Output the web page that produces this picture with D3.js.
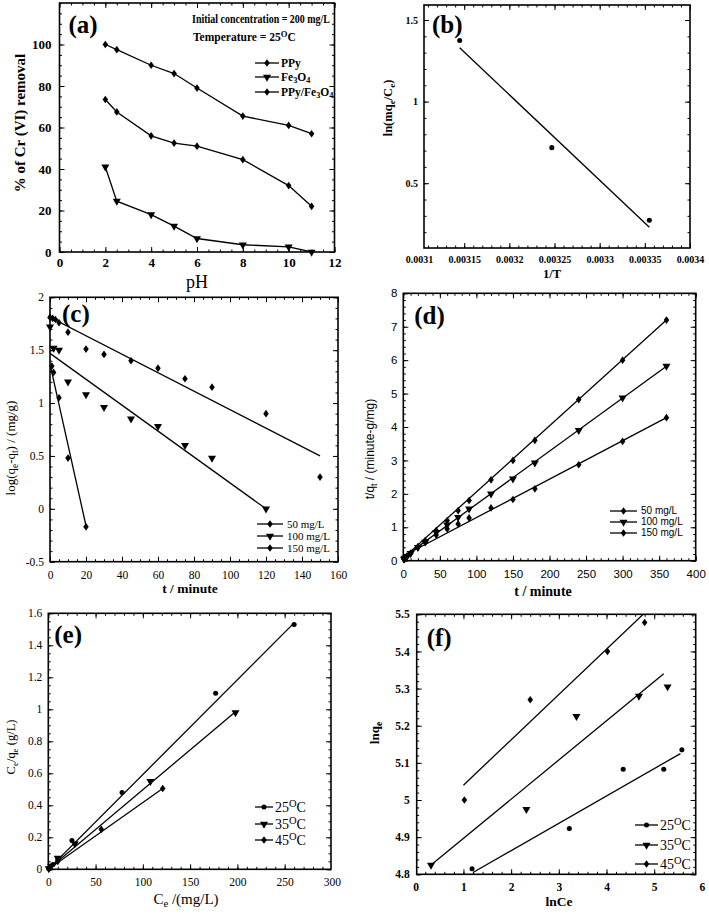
<!DOCTYPE html>
<html><head><meta charset="utf-8">
<script src="https://cdn.jsdelivr.net/npm/d3@7/dist/d3.min.js"></script>
<style>body{margin:0;background:#fff}svg{display:block}</style>
</head><body><svg id="fig" width="709" height="917"></svg>
<script>
// ---------------- DATA ----------------
// (a) effect of pH
const phValues = [2, 2.5, 4, 5, 6, 8, 10, 11];
const removalPPy = [100, 97.5, 90, 86, 79, 65.5, 61, 57];
const removalFe3O4 = [41, 24.5, 18, 12.5, 6.5, 3.5, 2.5, 0];
const removalComposite = [73.5, 67.5, 56, 52.5, 51, 44.5, 32, 22];
const aXTicks = [0, 2, 4, 6, 8, 10, 12];
const aYTicks = [0, 20, 40, 60, 80, 100];

// (b) van't Hoff
const invT = [0.003145, 0.003247, 0.003355];
const lnKd = [1.375, 0.718, 0.273];
const lnKdFitX = [0.003145, 0.003355];
const lnKdFitY = [1.33, 0.23];
const bXTicks = [0.0031, 0.00315, 0.0032, 0.00325, 0.0033, 0.00335, 0.0034];
const bYTicks = [0.5, 1, 1.5];

// (c) pseudo-first-order
const cT50 = [0, 1.5, 3, 5, 10, 20, 30, 45, 60, 75, 90, 120, 150];
const cLog50 = [1.81, 1.80, 1.79, 1.76, 1.67, 1.51, 1.46, 1.40, 1.33, 1.23, 1.15, 0.90, 0.30];
const cT100 = [0, 2, 5, 10, 20, 30, 45, 60, 75, 90, 120];
const cLog100 = [1.72, 1.52, 1.50, 1.20, 1.08, 0.96, 0.85, 0.78, 0.60, 0.48, 0.0];
const cT150 = [1, 2, 5, 10, 20];
const cLog150 = [1.35, 1.29, 1.05, 0.48, -0.17];
const cFit50 = [[0, 1.81], [150, 0.50]];
const cFit100 = [[0, 1.47], [120, 0.0]];
const cFit150 = [[0.5, 1.33], [20, -0.16]];
const cXTicks = [0, 20, 40, 60, 80, 100, 120, 140, 160];
const cYTicks = [-0.5, 0, 0.5, 1, 1.5, 2];

// (d) pseudo-second-order
const dT = [1, 2, 5, 10, 20, 30, 45, 60, 75, 90, 120, 150, 180, 240, 300, 360];
const dY50 = [0.04, 0.06, 0.12, 0.22, 0.42, 0.6, 0.9, 1.2, 1.5, 1.8, 2.42, 3.0, 3.6, 4.82, 6.0, 7.2];
const dY100 = [0.05, 0.08, 0.13, 0.22, 0.4, 0.56, 0.85, 1.07, 1.3, 1.55, 2.0, 2.45, 2.93, 3.9, 4.87, 5.82];
const dY150 = [0.06, 0.09, 0.14, 0.22, 0.4, 0.55, 0.77, 0.95, 1.1, 1.28, 1.58, 1.83, 2.15, 2.87, 3.57, 4.28];
const dFit50 = [[0, 0.08], [360, 7.2]];
const dFit100 = [[0, 0.1], [360, 5.82]];
const dFit150 = [[0, 0.14], [360, 4.28]];
const dXTicks = [0, 50, 100, 150, 200, 250, 300, 350, 400];
const dYTicks = [0, 1, 2, 3, 4, 5, 6, 7, 8];

// (e) Langmuir
const eCe25 = [0.5, 2, 5, 10, 25, 78, 177, 260];
const eRatio25 = [0.005, 0.015, 0.03, 0.06, 0.18, 0.48, 1.10, 1.53];
const eCe35 = [0.5, 3, 10, 28, 108, 198];
const eRatio35 = [0.005, 0.02, 0.07, 0.16, 0.55, 0.98];
const eCe45 = [0.5, 2, 10, 56, 121];
const eRatio45 = [0.005, 0.012, 0.05, 0.25, 0.505];
const eFit25 = [[0, 0.0], [260, 1.54]];
const eFit35 = [[0, 0.0], [198, 0.985]];
const eFit45 = [[0, 0.0], [121, 0.505]];
const eXTicks = [0, 50, 100, 150, 200, 250, 300];
const eYTicks = [0, 0.2, 0.4, 0.6, 0.8, 1, 1.2, 1.4, 1.6];

// (f) Freundlich
const fLnCe25 = [1.18, 3.22, 4.35, 5.2, 5.58];
const fLnQ25 = [4.815, 4.923, 5.083, 5.083, 5.135];
const fLnCe35 = [0.32, 2.32, 3.37, 4.68, 5.28];
const fLnQ35 = [4.825, 4.975, 5.225, 5.28, 5.305];
const fLnCe45 = [1.02, 2.4, 4.02, 4.8];
const fLnQ45 = [5.0, 5.27, 5.40, 5.478];
const fFit25 = [[1.2, 4.805], [5.55, 5.125]];
const fFit35 = [[0.32, 4.825], [5.2, 5.34]];
const fFit45 = [[1.0, 5.04], [4.85, 5.51]];
const fXTicks = [0, 1, 2, 3, 4, 5, 6];
const fYTicks = [4.8, 4.9, 5, 5.1, 5.2, 5.3, 5.4, 5.5];

// ---------------- DRAWING ----------------
const svg = d3.select("#fig");
const SERIF = "'Liberation Serif','Times New Roman',serif";
const SANS = "'Liberation Sans',Arial,sans-serif";

function richText(g, x, y, parts, o) {
  const t = g.append("text").attr("x", x).attr("y", y)
    .attr("font-family", o.font || SERIF).attr("font-size", o.size)
    .attr("font-weight", o.weight || "normal")
    .attr("text-anchor", o.anchor || "start").attr("fill", "#000");
  if (o.rotate) t.attr("transform", `rotate(-90,${x},${y})`);
  if (o.len) t.attr("textLength", o.len).attr("lengthAdjust", "spacingAndGlyphs");
  parts.forEach(p => {
    if (typeof p === "string") t.append("tspan").text(p);
    else if (p.sub !== undefined) t.append("tspan").attr("baseline-shift", "-30%").attr("font-size", o.size * 0.72).text(p.sub);
    else t.append("tspan").attr("baseline-shift", "45%").attr("font-size", o.size * 0.75).text(p.sup);
  });
  return t;
}

const symDiamond = d3.symbol().type(d3.symbolDiamond).size(17)();
const symCircle = d3.symbol().type(d3.symbolCircle).size(20)();
const symTri = d3.symbol().type(d3.symbolTriangle).size(28)();
function marker(g, type, x, y) {
  const p = g.append("path").attr("fill", "#000");
  if (type === "tri") p.attr("d", symTri).attr("transform", `translate(${x},${y}) rotate(180)`);
  else if (type === "diamond") p.attr("d", symDiamond).attr("transform", `translate(${x},${y}) scale(1.25,1)`);
  else p.attr("d", symCircle).attr("transform", `translate(${x},${y})`);
}

function panel(cfg) {
  const g = svg.append("g");
  const x = d3.scaleLinear().domain(cfg.xDomain).range([cfg.l, cfg.r]);
  const y = d3.scaleLinear().domain(cfg.yDomain).range([cfg.b, cfg.t]);
  const inX = v => v >= cfg.xDomain[0] - 1e-12 && v <= cfg.xDomain[1] + 1e-12;
  const inY = v => v >= cfg.yDomain[0] - 1e-9 && v <= cfg.yDomain[1] + 1e-9;
  const xMinor = d3.range(cfg.xMinor[0], cfg.xMinor[1] + cfg.xMinor[2] / 2, cfg.xMinor[2]).filter(inX);
  const yMinor = d3.range(cfg.yMinor[0], cfg.yMinor[1] + cfg.yMinor[2] / 2, cfg.yMinor[2]).filter(inY);
  const xMajor = cfg.xTicks.filter(inX), yMajor = cfg.yTicks.filter(inY);
  const fmt = d => String(d);
  const tickFont = cfg.tickFont || SERIF;

  function style(sel) {
    sel.select(".domain").remove();
    sel.selectAll("line").attr("stroke", "#000").attr("stroke-width", 1);
    sel.selectAll("text").attr("font-family", tickFont).attr("font-size", cfg.tickSize)
      .attr("font-weight", cfg.tickWeight || "normal").attr("fill", "#000");
  }
  // labels
  g.append("g").attr("transform", `translate(0,${cfg.b})`)
    .call(d3.axisBottom(x).tickValues(cfg.xTicks).tickFormat(fmt).tickSize(0).tickPadding(cfg.xPad)).call(style);
  g.append("g").attr("transform", `translate(${cfg.l},0)`)
    .call(d3.axisLeft(y).tickValues(cfg.yTicks).tickFormat(fmt).tickSize(0).tickPadding(cfg.yPad)).call(style);
  // tick marks (inward) on all four sides
  const mk = (axisFn, scale, vals, size, tr) => g.append("g").attr("transform", tr)
    .call(axisFn(scale).tickValues(vals).tickFormat("").tickSizeInner(-size).tickSizeOuter(0)).call(style);
  mk(d3.axisBottom, x, xMajor, 5, `translate(0,${cfg.b})`);
  mk(d3.axisBottom, x, xMinor, 2.5, `translate(0,${cfg.b})`);
  mk(d3.axisTop, x, xMajor, 5, `translate(0,${cfg.t})`);
  mk(d3.axisTop, x, xMinor, 2.5, `translate(0,${cfg.t})`);
  mk(d3.axisLeft, y, yMajor, 5, `translate(${cfg.l},0)`);
  mk(d3.axisLeft, y, yMinor, 2.5, `translate(${cfg.l},0)`);
  mk(d3.axisRight, y, yMajor, 5, `translate(${cfg.r},0)`);
  mk(d3.axisRight, y, yMinor, 2.5, `translate(${cfg.r},0)`);
  // frame
  g.append("rect").attr("x", cfg.l).attr("y", cfg.t).attr("width", cfg.r - cfg.l).attr("height", cfg.b - cfg.t)
    .attr("fill", "none").attr("stroke", "#000").attr("stroke-width", 1.6);
  // clip
  const cid = "clip-" + cfg.id;
  svg.append("clipPath").attr("id", cid).append("rect")
    .attr("x", cfg.l).attr("y", cfg.t).attr("width", cfg.r - cfg.l).attr("height", cfg.b - cfg.t);
  const plot = g.append("g").attr("clip-path", `url(#${cid})`);
  const line = d3.line().x(d => x(d[0])).y(d => y(d[1]));
  (cfg.lines || []).forEach(L => plot.append("path").attr("d", line(L)).attr("fill", "none")
    .attr("stroke", "#000").attr("stroke-width", 1.3));
  const mg = g.append("g");
  (cfg.series || []).forEach(s => s.xs.forEach((xv, i) => marker(mg, s.type, x(xv), y(s.ys[i]))));
  // panel letter
  g.append("text").attr("x", cfg.l + cfg.letterDx).attr("y", cfg.t + cfg.letterDy)
    .attr("font-family", SERIF).attr("font-weight", "bold").attr("font-size", 25).text(cfg.letter);
  // titles
  richText(g, cfg.xTitle.x, cfg.xTitle.y, cfg.xTitle.parts, Object.assign({anchor: "middle"}, cfg.xTitle));
  richText(g, cfg.yTitle.x, cfg.yTitle.y, cfg.yTitle.parts, Object.assign({anchor: "middle", rotate: true}, cfg.yTitle));
  // legend
  if (cfg.legend) {
    const L = cfg.legend;
    L.items.forEach((it, i) => {
      const yy = L.ys[i];
      g.append("line").attr("x1", L.x0).attr("x2", L.x1).attr("y1", yy).attr("y2", yy)
        .attr("stroke", "#000").attr("stroke-width", 1.3);
      marker(g, it.type, (L.x0 + L.x1) / 2, yy);
      richText(g, L.tx, yy + L.size * 0.33, it.parts, {size: L.size, font: L.font || SERIF, weight: L.weight});
    });
  }
  return {g, x, y};
}

const zip = (a, b) => a.map((v, i) => [v, b[i]]);
const degC = t => [t, {sup: "O"}, "C"];

// (a)
const pa = panel({
  id: "a", letter: "(a)", letterDx: 9, letterDy: 30,
  l: 59.5, r: 334.5, t: 3, b: 252, xDomain: [0, 12], yDomain: [0, 120],
  xTicks: aXTicks, yTicks: aYTicks, xMinor: [0, 12, 0.5], yMinor: [0, 120, 5],
  tickSize: 13, tickWeight: "bold", xPad: 6, yPad: 8,
  lines: [zip(phValues, removalPPy), zip(phValues, removalFe3O4), zip(phValues, removalComposite)],
  series: [{type: "diamond", xs: phValues, ys: removalPPy}, {type: "tri", xs: phValues, ys: removalFe3O4},
    {type: "diamond", xs: phValues, ys: removalComposite}],
  xTitle: {x: 197, y: 288, parts: ["pH"], size: 18},
  yTitle: {x: 25, y: 123, parts: ["% of Cr (VI) removal"], size: 15, weight: "bold"},
  legend: {x0: 255, x1: 279, tx: 281, ys: [63, 77, 92], size: 11.5, weight: "bold",
    items: [{type: "diamond", parts: ["PPy"]}, {type: "tri", parts: ["Fe", {sub: "3"}, "O", {sub: "4"}]},
      {type: "diamond", parts: ["PPy/Fe", {sub: "3"}, "O", {sub: "4"}]}]}
});
richText(pa.g, 192, 23, ["Initial concentration = 200 mg/L"], {size: 11.5, weight: "bold", len: 138});
richText(pa.g, 193, 41, ["Temperature = 25", {sup: "O"}, "C"], {size: 11.5, weight: "bold"});

// (b)
panel({
  id: "b", letter: "(b)", letterDx: 8, letterDy: 28,
  l: 424, r: 690, t: 5, b: 248, xDomain: [0.0031055, 0.0034], yDomain: [0.103, 1.592],
  xTicks: bXTicks, yTicks: bYTicks, xMinor: [0.0031, 0.0034, 0.00001], yMinor: [0.1, 1.6, 0.1],
  tickSize: 10, tickWeight: "bold", xPad: 8, yPad: 6,
  lines: [zip(lnKdFitX, lnKdFitY)],
  series: [{type: "circle", xs: invT, ys: lnKd}],
  xTitle: {x: 552, y: 278, parts: ["1/T"], size: 12.5, weight: "bold"},
  yTitle: {x: 392, y: 108, parts: ["ln(mq", {sub: "e"}, "/C", {sub: "e"}, ")"], size: 12.5, weight: "bold"}
});

// (c)
panel({
  id: "c", letter: "(c)", letterDx: 12, letterDy: 25,
  l: 50, r: 338, t: 297.3, b: 561.7, xDomain: [0, 160], yDomain: [-0.5, 2],
  xTicks: cXTicks, yTicks: cYTicks, xMinor: [0, 160, 5], yMinor: [-0.5, 2, 0.1],
  tickSize: 11.5, xPad: 9, yPad: 6,
  lines: [cFit50, cFit100, cFit150],
  series: [{type: "diamond", xs: cT50, ys: cLog50}, {type: "tri", xs: cT100, ys: cLog100},
    {type: "diamond", xs: cT150, ys: cLog150}],
  xTitle: {x: 190, y: 593, parts: ["t / minute"], size: 13.5, weight: "bold"},
  yTitle: {x: 15, y: 448, parts: ["log(q", {sub: "e"}, "-q", {sub: "t"}, ") / (mg/g)"], size: 13},
  legend: {x0: 257, x1: 283, tx: 287, ys: [524, 536, 548], size: 11,
    items: [{type: "diamond", parts: ["50 mg/L"]}, {type: "tri", parts: ["100 mg/L"]}, {type: "diamond", parts: ["150 mg/L"]}]}
});

// (d)
panel({
  id: "d", letter: "(d)", letterDx: 11, letterDy: 31,
  l: 403.3, r: 695.7, t: 293.3, b: 560.7, xDomain: [0, 400], yDomain: [0, 8],
  xTicks: dXTicks, yTicks: dYTicks, xMinor: [0, 400, 10], yMinor: [0, 8, 0.2],
  tickSize: 11.5, tickFont: SANS, xPad: 9, yPad: 6,
  lines: [dFit50, dFit100, dFit150],
  series: [{type: "diamond", xs: dT, ys: dY50}, {type: "tri", xs: dT, ys: dY100},
    {type: "diamond", xs: dT, ys: dY150}],
  xTitle: {x: 543, y: 596, parts: ["t / minute"], size: 14, weight: "bold"},
  yTitle: {x: 374, y: 449, parts: ["t/q", {sub: "t"}, " / (minute-g/mg)"], size: 12, font: SANS},
  legend: {x0: 610, x1: 637, tx: 641, ys: [511, 522, 533], size: 10, font: SANS,
    items: [{type: "diamond", parts: ["50 mg/L"]}, {type: "tri", parts: ["100 mg/L"]}, {type: "diamond", parts: ["150 mg/L"]}]}
});

// (e)
panel({
  id: "e", letter: "(e)", letterDx: 6, letterDy: 30,
  l: 48.3, r: 331, t: 613.3, b: 869.3, xDomain: [0, 299], yDomain: [0, 1.6],
  xTicks: eXTicks, yTicks: eYTicks, xMinor: [0, 300, 10], yMinor: [0, 1.6, 0.05],
  tickSize: 11.5, xPad: 9, yPad: 6,
  lines: [eFit25, eFit35, eFit45],
  series: [{type: "circle", xs: eCe25, ys: eRatio25}, {type: "tri", xs: eCe35, ys: eRatio35},
    {type: "diamond", xs: eCe45, ys: eRatio45}],
  xTitle: {x: 186, y: 904, parts: ["C", {sub: "e"}, " /(mg/L)"], size: 15},
  yTitle: {x: 15, y: 747, parts: ["C", {sub: "e"}, "/q", {sub: "e"}, " (g/L)"], size: 12.5},
  legend: {x0: 255, x1: 273, tx: 275, ys: [807, 824, 840], size: 14,
    items: [{type: "circle", parts: degC("25")}, {type: "tri", parts: degC("35")}, {type: "diamond", parts: degC("45")}]}
});

// (f)
panel({
  id: "f", letter: "(f)", letterDx: 10, letterDy: 32,
  l: 416.7, r: 695.7, t: 614.3, b: 874.3, xDomain: [0.02, 5.87], yDomain: [4.8, 5.5],
  xTicks: fXTicks, yTicks: fYTicks, xMinor: [0, 6, 0.2], yMinor: [4.8, 5.5, 0.02],
  tickSize: 11.5, tickWeight: "bold", xPad: 9, yPad: 7,
  lines: [fFit25, fFit35, fFit45],
  series: [{type: "circle", xs: fLnCe25, ys: fLnQ25}, {type: "tri", xs: fLnCe35, ys: fLnQ35},
    {type: "diamond", xs: fLnCe45, ys: fLnQ45}],
  xTitle: {x: 559, y: 906, parts: ["lnCe"], size: 13.5, weight: "bold"},
  yTitle: {x: 379, y: 733, parts: ["lnq", {sub: "e"}], size: 13, weight: "bold"},
  legend: {x0: 635, x1: 658, tx: 660, ys: [825, 845, 864], size: 14,
    items: [{type: "circle", parts: degC("25")}, {type: "tri", parts: degC("35")}, {type: "diamond", parts: degC("45")}]}
});
</script>
</body></html>
